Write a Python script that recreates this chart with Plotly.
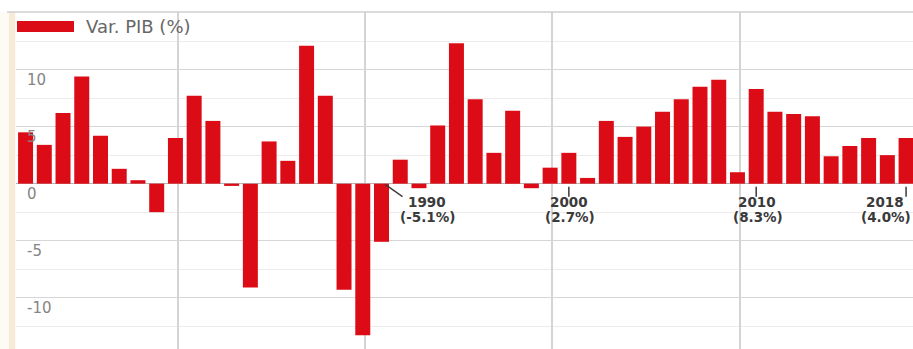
import plotly.graph_objects as go

# ---- data ----
years = list(range(1971, 2019))
growth = [4.5, 3.4, 6.2, 9.4, 4.2, 1.3, 0.3, -2.5, 4.0, 7.7,
          5.5, -0.2, -9.1, 3.7, 2.0, 12.1, 7.7, -9.3, -13.3, -5.1,
          2.1, -0.4, 5.1, 12.3, 7.4, 2.7, 6.4, -0.4, 1.4, 2.7,
          0.5, 5.5, 4.1, 5.0, 6.3, 7.4, 8.5, 9.1, 1.0, 8.3,
          6.3, 6.1, 5.9, 2.4, 3.3, 4.0, 2.5, 4.0]
series_name = "Var. PIB (%)"
ytick_vals = [-10, -5, 0, 5, 10]
ytick_text = ["-10", "-5", "0", "5", "10"]
ann_years = [1990, 2000, 2010, 2018]
ann_pcts = ["(-5.1%)", "(2.7%)", "(8.3%)", "(4.0%)"]

# ---- styling ----
W, H = 913, 349
ML, MT = 16, 12
PW, PH = W - ML, H - MT
RED = "#DC0C17"
TXT = "#3a3a3a"

fig = go.Figure()
fig.add_trace(go.Bar(x=years, y=growth, width=0.8, name=series_name,
                     marker=dict(color=RED, line=dict(width=0)),
                     showlegend=False))

shapes = []
# light beige strip on the left of the plot
shapes.append(dict(type="rect", xref="paper", yref="paper",
                   x0=-ML / PW, x1=0, y0=0, y1=1,
                   fillcolor="#fefaf4", line=dict(width=0), layer="below"))
shapes.append(dict(type="rect", xref="paper", yref="paper",
                   x0=-7 / PW, x1=-1 / PW, y0=0, y1=1,
                   fillcolor="#f8ead6", line=dict(width=0), layer="below"))
# top border
shapes.append(dict(type="line", xref="paper", yref="paper",
                   x0=-9 / PW, x1=1, y0=1, y1=1,
                   line=dict(color="#cfcfcf", width=1.5)))

# annotation leader ticks
xoffs = [45, 0, 1, -21]
for yr, xo in zip(ann_years, xoffs):
    if xo > 20:
        shapes.append(dict(type="line", xref="x", yref="y",
                           xsizemode="pixel", xanchor=yr, x0=4, x1=21,
                           ysizemode="pixel", yanchor=0, y0=-1, y1=-13,
                           line=dict(color=TXT, width=1.3)))
    else:
        shapes.append(dict(type="line", xref="x", yref="y",
                           xsizemode="pixel", xanchor=yr, x0=0, x1=0,
                           ysizemode="pixel", yanchor=0, y0=-3, y1=-13,
                           line=dict(color=TXT, width=1.5)))

# legend swatch (manual, wide swatch like the reference)
shapes.append(dict(type="rect", xref="paper", yref="paper",
                   x0=(17 - ML) / PW, x1=(74 - ML) / PW,
                   y0=1 - (32 - MT) / PH, y1=1 - (21 - MT) / PH,
                   fillcolor=RED, line=dict(width=0)))

annotations = []
annotations.append(dict(xref="paper", yref="paper",
                        x=(84 - ML) / PW, y=1 - (27 - MT) / PH,
                        xanchor="left", yanchor="middle", showarrow=False,
                        text=series_name,
                        font=dict(family="DejaVu Sans", size=18, color="#666666")))

afont = dict(family="DejaVu Sans", size=13.5, color=TXT, weight="bold")
for yr, pct, xo in zip(ann_years, ann_pcts, xoffs):
    annotations.append(dict(x=yr, y=0, xref="x", yref="y", showarrow=False,
                            text=str(yr), xanchor="center", yanchor="middle",
                            xshift=xo, yshift=-18.5, font=afont))
    annotations.append(dict(x=yr, y=0, xref="x", yref="y", showarrow=False,
                            text=pct, xanchor="center", yanchor="middle",
                            xshift=xo + 1, yshift=-33.5, font=afont))

fig.update_layout(
    width=W, height=H,
    margin=dict(l=ML, r=0, t=MT, b=0, pad=0),
    paper_bgcolor="white", plot_bgcolor="white",
    bargap=0.2,
    shapes=shapes, annotations=annotations,
    xaxis=dict(range=[1970.49, 2018.37], tickmode="linear", tick0=1979.12, dtick=10,
               showgrid=True, gridcolor="#d4d4d4", gridwidth=2,
               showticklabels=False, ticks="", zeroline=False, showline=False),
    yaxis=dict(range=[-14.5, 15.05], tickmode="array",
               tickvals=ytick_vals, ticktext=ytick_text,
               showgrid=True, gridcolor="#d6d6d6", gridwidth=1,
               minor=dict(dtick=2.5, tick0=0, showgrid=True,
                          gridcolor="#ececec", gridwidth=1, ticks=""),
               zeroline=True, zerolinecolor="#b5b5b5", zerolinewidth=1,
               ticks="", ticklabelposition="inside bottom", ticklabelstandoff=8,
               tickfont=dict(family="DejaVu Sans", size=15, color="#858585"),
               showline=False),
)

fig.write_html("out.html")
